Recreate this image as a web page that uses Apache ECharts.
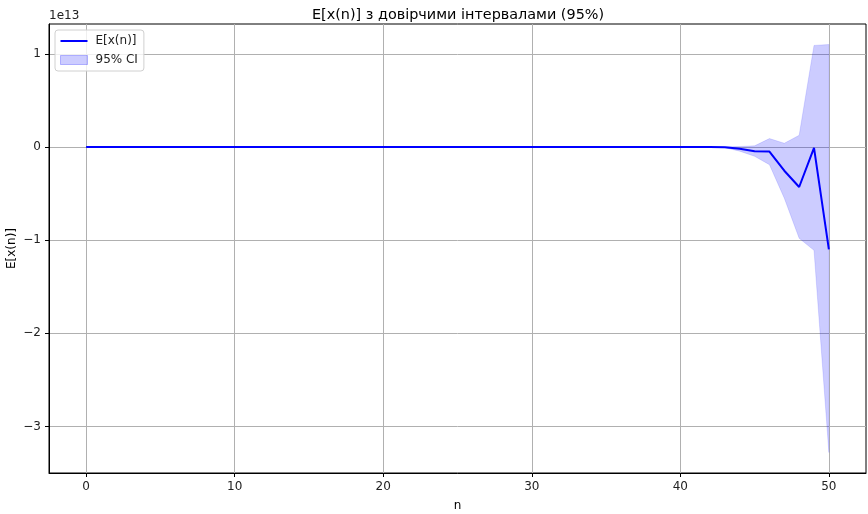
<!DOCTYPE html>
<html>
<head>
<meta charset="utf-8">
<script src="https://cdn.jsdelivr.net/npm/echarts@6/dist/echarts.min.js"></script>
<style>
html,body{margin:0;padding:0;background:#fff;}
#chart{width:868px;height:514px;}
</style>
</head>
<body>
<div id="chart"></div>
<script>
// values in units of 1e13
const n = Array.from({length: 51}, (_, i) => i);
const meanVals = [
  0,0,0,0,0,0,0,0,0,0,
  0,0,0,0,0,0,0,0,0,0,
  0,0,0,0,0,0,0,0,0,0,
  0,0,0,0,0,0,0,0,0,0,
  0,-0.0005,-0.001,-0.003,-0.02,-0.045,-0.05,-0.255,-0.43,-0.01,-1.10
];
const upperVals = [
  0,0,0,0,0,0,0,0,0,0,
  0,0,0,0,0,0,0,0,0,0,
  0,0,0,0,0,0,0,0,0,0,
  0,0,0,0,0,0,0,0,0,0,
  0,0.0005,0.001,0.002,0.005,0.012,0.09,0.04,0.125,1.09,1.10
];
const lowerVals = [
  0,0,0,0,0,0,0,0,0,0,
  0,0,0,0,0,0,0,0,0,0,
  0,0,0,0,0,0,0,0,0,0,
  0,0,0,0,0,0,0,0,0,0,
  0,-0.0015,-0.003,-0.008,-0.045,-0.10,-0.19,-0.55,-0.98,-1.11,-3.28
];
const xTicks = [0, 10, 20, 30, 40, 50];
const yTicks = [-3, -2, -1, 0, 1];
const titleText = 'E[x(n)] з довірчими інтервалами (95%)';
const offsetText = '1e13';

const chart = echarts.init(document.getElementById('chart'), null, {renderer: 'canvas'});
const FONT = 'DejaVu Sans';
const fmtNum = v => (v < 0 ? '\u2212' + Math.abs(v) : String(v));

const bandData = n.map((x, i) => [x, lowerVals[i], upperVals[i]]);

const option = {
  animation: false,
  backgroundColor: '#fff',
  textStyle: {fontFamily: FONT},
  title: {
    text: titleText,
    left: 307, top: 3,
    textStyle: {fontFamily: FONT, fontSize: 14.4, fontWeight: 'normal', color: '#000'}
  },
  graphic: [{
    type: 'text', left: 49, top: 10,
    style: {text: offsetText, font: '12px "DejaVu Sans"', fill: '#222'}
  }],
  legend: {
    orient: 'vertical', left: 55, top: 30,
    backgroundColor: 'rgba(255,255,255,0.8)',
    borderColor: '#d0d0d0', borderWidth: 1, borderRadius: 3,
    padding: [5, 6, 5, 5], itemGap: 7,
    itemWidth: 27, itemHeight: 9,
    textStyle: {fontFamily: FONT, fontSize: 12, color: '#222', padding: [0,0,0,3]},
    data: [
      {name: 'E[x(n)]', icon: 'path://M0,4 L27,4 L27,6 L0,6 Z', itemStyle: {color: '#0000ff'}},
      {name: '95% CI', icon: 'rect', itemStyle: {color: 'rgba(0,0,255,0.2)', borderColor: 'rgba(0,0,255,0.25)', borderWidth: 1}}
    ]
  },
  grid: {left: 49, right: 2, top: 24, bottom: 41, containLabel: false,
         outerBoundsMode: 'none',
         show: true, borderColor: '#000', borderWidth: 1},
  xAxis: {
    type: 'value', min: -2.5, max: 52.5,
    name: 'n', nameLocation: 'middle', nameGap: 27,
    nameTextStyle: {fontFamily: FONT, fontSize: 12, color: '#000'},
    axisLine: {show: true, onZero: false, lineStyle: {color: '#000', width: 1}},
    axisTick: {show: true, length: 4, inside: false, customValues: xTicks, lineStyle: {color: '#000'}},
    axisLabel: {customValues: xTicks, fontFamily: FONT, fontSize: 12, color: '#222', margin: 8, formatter: fmtNum},
    splitLine: {show: true, lineStyle: {color: '#b0b0b0', width: 1}}
  },
  yAxis: {
    type: 'value', min: -3.5, max: 1.32,
    name: 'E[x(n)]', nameLocation: 'middle', nameGap: 31, nameRotate: 90,
    nameMoveOverlap: false,
    nameTextStyle: {fontFamily: FONT, fontSize: 12, color: '#000'},
    axisLine: {show: true, onZero: false, lineStyle: {color: '#000', width: 1}},
    axisTick: {show: true, length: 4, customValues: yTicks, lineStyle: {color: '#000'}},
    axisLabel: {customValues: yTicks, fontFamily: FONT, fontSize: 12, color: '#222', margin: 8, formatter: fmtNum},
    splitLine: {show: true, lineStyle: {color: '#b0b0b0', width: 1}}
  },
  series: [
    {
      name: '95% CI', type: 'custom',
      data: bandData,
      encode: {x: 0, y: [1, 2]},
      itemStyle: {color: 'rgba(0,0,255,0.2)'},
      silent: true, z: 2,
      renderItem: function (params, api) {
        if (params.dataIndex !== 0) return null;
        const pts = [];
        for (let i = 0; i < bandData.length; i++) pts.push(api.coord([bandData[i][0], bandData[i][2]]));
        for (let i = bandData.length - 1; i >= 0; i--) pts.push(api.coord([bandData[i][0], bandData[i][1]]));
        return {
          type: 'polygon',
          shape: {points: pts},
          style: {fill: 'rgba(0,0,255,0.2)', stroke: 'rgba(0,0,255,0.12)', lineWidth: 1}
        };
      }
    },
    {
      name: 'E[x(n)]', type: 'line',
      data: n.map((x, i) => [x, meanVals[i]]),
      symbol: 'none', lineStyle: {color: '#0000ff', width: 2},
      itemStyle: {color: '#0000ff'}, z: 3
    }
  ]
};
chart.setOption(option);
</script>
</body>
</html>
